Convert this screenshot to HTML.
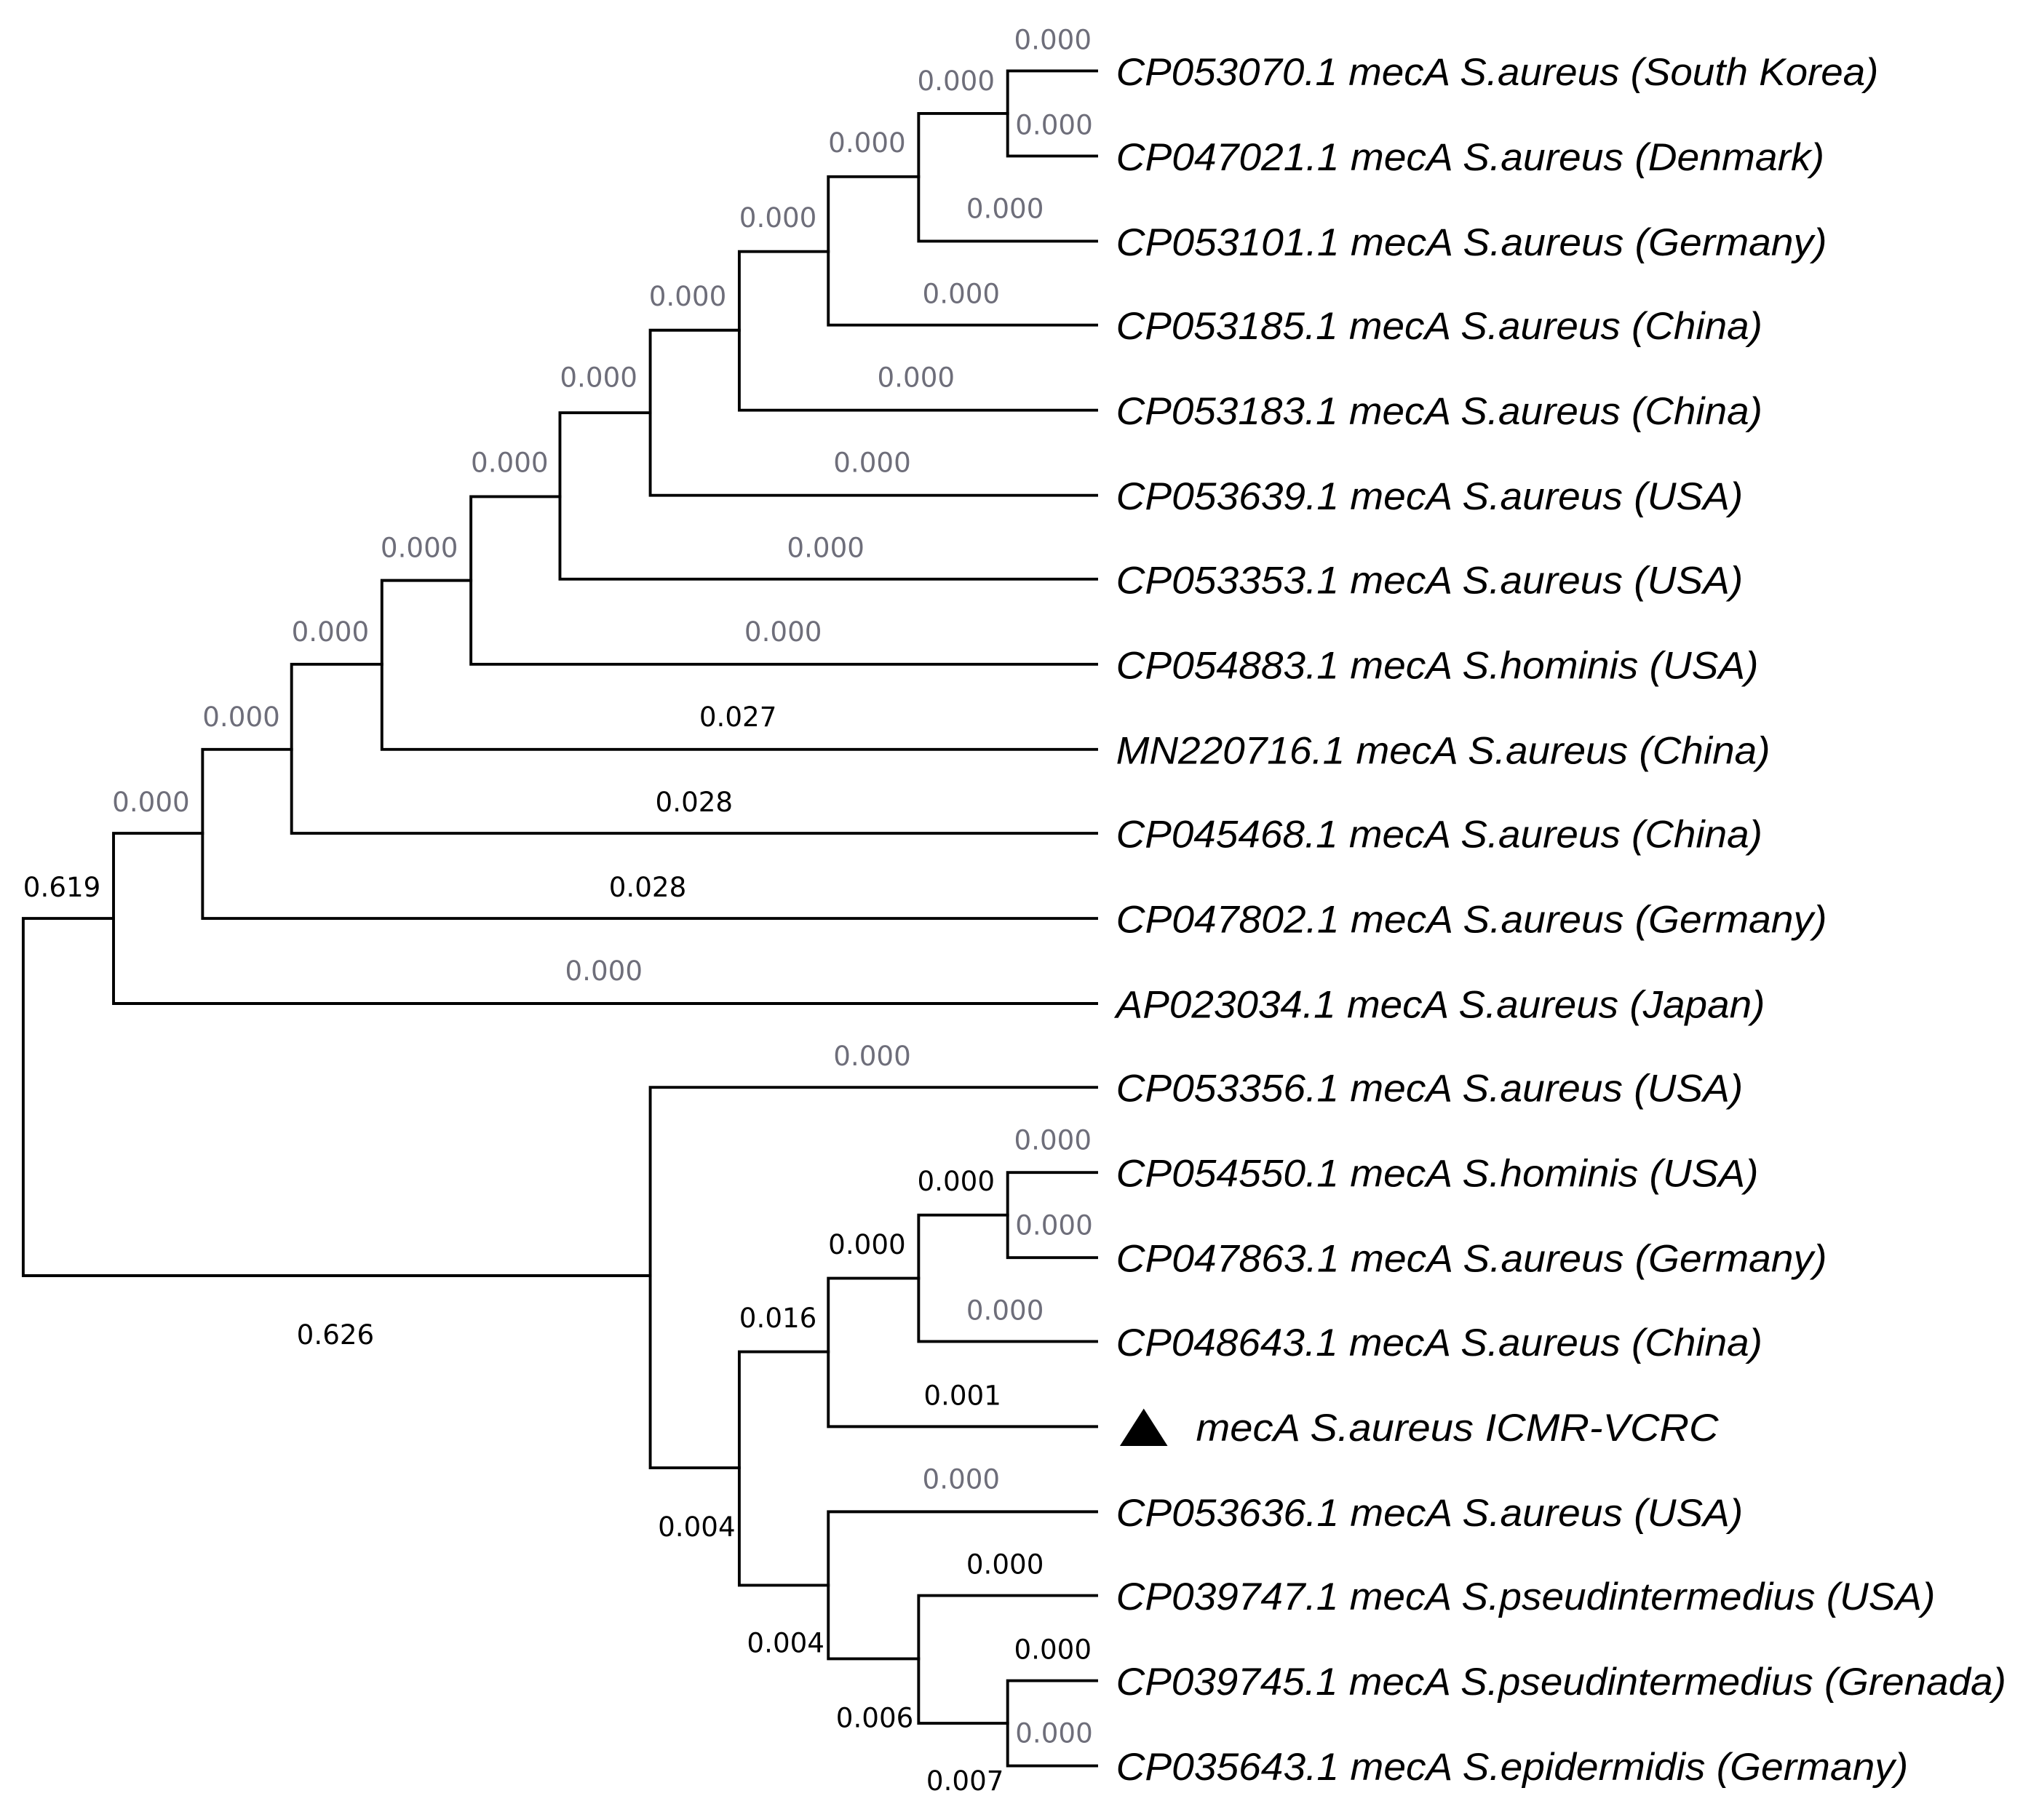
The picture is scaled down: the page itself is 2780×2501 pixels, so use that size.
<!DOCTYPE html>
<html><head><meta charset="utf-8"><style>
html,body{margin:0;padding:0;background:#fff;}
svg{display:block;}
.l{font-family:"Liberation Sans",sans-serif;font-style:italic;font-size:30px;fill:#000;}
.b{font-family:"DejaVu Sans","Liberation Sans",sans-serif;font-size:21px;text-anchor:middle;}
.g{fill:#6e6e7a;}
.k{fill:#000;}
</style></head><body>
<svg width="2780" height="2501" viewBox="0 0 1568 1411" preserveAspectRatio="none" xmlns="http://www.w3.org/2000/svg">
<g stroke="#000" stroke-width="2.2" fill="none" stroke-linecap="square">
<path d="M18 712V989M18 712H88M18 989H504"/>
<path d="M88 646V778M88 646H157M88 778H850"/>
<path d="M157 581V712M157 581H226M157 712H850"/>
<path d="M226 515V646M226 515H296M226 646H850"/>
<path d="M296 450V581M296 450H365M296 581H850"/>
<path d="M365 385V515M365 385H434M365 515H850"/>
<path d="M434 320V449M434 320H504M434 449H850"/>
<path d="M504 256V384M504 256H573M504 384H850"/>
<path d="M573 195V318M573 195H642M573 318H850"/>
<path d="M642 137V252M642 137H712M642 252H850"/>
<path d="M712 88V187M712 88H781M712 187H850"/>
<path d="M781 55V121M781 55H850M781 121H850"/>
<path d="M504 843V1138M504 843H850M504 1138H573"/>
<path d="M573 1048V1229M573 1048H642M573 1229H642"/>
<path d="M642 991V1106M642 991H712M642 1106H850"/>
<path d="M712 942V1040M712 942H781M712 1040H850"/>
<path d="M781 909V975M781 909H850M781 975H850"/>
<path d="M642 1172V1286M642 1172H850M642 1286H712"/>
<path d="M712 1237V1336M712 1237H850M712 1336H781"/>
<path d="M781 1303V1369M781 1303H850M781 1369H850"/>
</g>
<polygon points="868,1121 905,1121 886.5,1092" fill="#000"/>
<g>
<text class="l" x="865" y="66" textLength="591" lengthAdjust="spacingAndGlyphs">CP053070.1 mecA S.aureus (South Korea)</text>
<text class="l" x="865" y="132" textLength="549" lengthAdjust="spacingAndGlyphs">CP047021.1 mecA S.aureus (Denmark)</text>
<text class="l" x="865" y="198" textLength="551" lengthAdjust="spacingAndGlyphs">CP053101.1 mecA S.aureus (Germany)</text>
<text class="l" x="865" y="263" textLength="501" lengthAdjust="spacingAndGlyphs">CP053185.1 mecA S.aureus (China)</text>
<text class="l" x="865" y="329" textLength="501" lengthAdjust="spacingAndGlyphs">CP053183.1 mecA S.aureus (China)</text>
<text class="l" x="865" y="395" textLength="486" lengthAdjust="spacingAndGlyphs">CP053639.1 mecA S.aureus (USA)</text>
<text class="l" x="865" y="460" textLength="486" lengthAdjust="spacingAndGlyphs">CP053353.1 mecA S.aureus (USA)</text>
<text class="l" x="865" y="526" textLength="498" lengthAdjust="spacingAndGlyphs">CP054883.1 mecA S.hominis (USA)</text>
<text class="l" x="865" y="592" textLength="507" lengthAdjust="spacingAndGlyphs">MN220716.1 mecA S.aureus (China)</text>
<text class="l" x="865" y="657" textLength="501" lengthAdjust="spacingAndGlyphs">CP045468.1 mecA S.aureus (China)</text>
<text class="l" x="865" y="723" textLength="551" lengthAdjust="spacingAndGlyphs">CP047802.1 mecA S.aureus (Germany)</text>
<text class="l" x="865" y="789" textLength="503" lengthAdjust="spacingAndGlyphs">AP023034.1 mecA S.aureus (Japan)</text>
<text class="l" x="865" y="854" textLength="486" lengthAdjust="spacingAndGlyphs">CP053356.1 mecA S.aureus (USA)</text>
<text class="l" x="865" y="920" textLength="498" lengthAdjust="spacingAndGlyphs">CP054550.1 mecA S.hominis (USA)</text>
<text class="l" x="865" y="986" textLength="551" lengthAdjust="spacingAndGlyphs">CP047863.1 mecA S.aureus (Germany)</text>
<text class="l" x="865" y="1051" textLength="501" lengthAdjust="spacingAndGlyphs">CP048643.1 mecA S.aureus (China)</text>
<text class="l" x="927" y="1117" textLength="405" lengthAdjust="spacingAndGlyphs">mecA S.aureus ICMR-VCRC</text>
<text class="l" x="865" y="1183" textLength="486" lengthAdjust="spacingAndGlyphs">CP053636.1 mecA S.aureus (USA)</text>
<text class="l" x="865" y="1248" textLength="635" lengthAdjust="spacingAndGlyphs">CP039747.1 mecA S.pseudintermedius (USA)</text>
<text class="l" x="865" y="1314" textLength="690" lengthAdjust="spacingAndGlyphs">CP039745.1 mecA S.pseudintermedius (Grenada)</text>
<text class="l" x="865" y="1380" textLength="614" lengthAdjust="spacingAndGlyphs">CP035643.1 mecA S.epidermidis (Germany)</text>
</g>
<g>
<text class="b g" x="816" y="38">0.000</text>
<text class="b g" x="741" y="70">0.000</text>
<text class="b g" x="817" y="104">0.000</text>
<text class="b g" x="672" y="118">0.000</text>
<text class="b g" x="779" y="169">0.000</text>
<text class="b g" x="603" y="176">0.000</text>
<text class="b g" x="745" y="235">0.000</text>
<text class="b g" x="533" y="237">0.000</text>
<text class="b g" x="710" y="300">0.000</text>
<text class="b g" x="464" y="300">0.000</text>
<text class="b g" x="676" y="366">0.000</text>
<text class="b g" x="395" y="366">0.000</text>
<text class="b g" x="640" y="432">0.000</text>
<text class="b g" x="325" y="432">0.000</text>
<text class="b g" x="607" y="497">0.000</text>
<text class="b g" x="256" y="497">0.000</text>
<text class="b k" x="572" y="563">0.027</text>
<text class="b g" x="187" y="563">0.000</text>
<text class="b k" x="538" y="629">0.028</text>
<text class="b g" x="117" y="629">0.000</text>
<text class="b k" x="48" y="695">0.619</text>
<text class="b k" x="502" y="695">0.028</text>
<text class="b g" x="468" y="760">0.000</text>
<text class="b g" x="676" y="826">0.000</text>
<text class="b g" x="816" y="891">0.000</text>
<text class="b k" x="741" y="923">0.000</text>
<text class="b g" x="817" y="957">0.000</text>
<text class="b k" x="672" y="972">0.000</text>
<text class="b g" x="779" y="1023">0.000</text>
<text class="b k" x="603" y="1029">0.016</text>
<text class="b k" x="260" y="1042">0.626</text>
<text class="b k" x="746" y="1089">0.001</text>
<text class="b g" x="745" y="1154">0.000</text>
<text class="b k" x="540" y="1191">0.004</text>
<text class="b k" x="779" y="1220">0.000</text>
<text class="b k" x="609" y="1281">0.004</text>
<text class="b k" x="816" y="1286">0.000</text>
<text class="b k" x="678" y="1339">0.006</text>
<text class="b g" x="817" y="1351">0.000</text>
<text class="b k" x="748" y="1388">0.007</text>
</g>
</svg>
</body></html>
